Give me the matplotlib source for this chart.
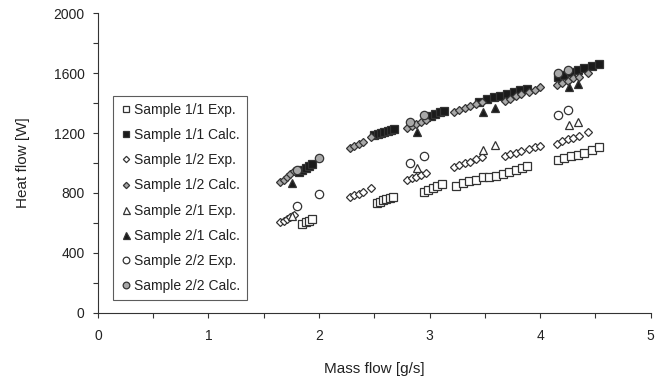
import matplotlib
matplotlib.use("Agg")
import matplotlib.pyplot as plt
from matplotlib.ticker import MultipleLocator

plt.rcParams['font.family'] = ['Liberation Sans', 'DejaVu Sans']

# Sample 1/1 (squares)
s11_x = [1.85, 1.88, 1.91, 1.94,
         2.52, 2.55, 2.58, 2.61, 2.64, 2.67,
         2.95, 2.99, 3.03, 3.07, 3.11,
         3.24, 3.30, 3.36, 3.42, 3.48, 3.54, 3.60, 3.66, 3.72, 3.78, 3.84, 3.88,
         4.16, 4.22, 4.28, 4.34, 4.40, 4.47, 4.53]
s11_exp = [595, 605, 615, 625,
           735, 742, 750, 758, 765, 772,
           805, 820, 830, 845, 860,
           850, 865, 880, 890, 905, 910, 915, 930, 940, 955, 970, 980,
           1020, 1035, 1045, 1055, 1070, 1085, 1105]
s11c_x = [1.82, 1.85, 1.88, 1.91, 1.94,
          2.50, 2.53, 2.56, 2.59, 2.62, 2.65, 2.68,
          2.97, 3.01, 3.05, 3.09, 3.13,
          3.45, 3.52, 3.58, 3.64, 3.70, 3.76, 3.82, 3.88,
          4.16, 4.22, 4.28, 4.34, 4.40, 4.47, 4.53]
s11_calc = [940, 955, 968, 980, 995,
            1185, 1192, 1200, 1208, 1215, 1222, 1230,
            1305, 1315, 1325, 1338, 1350,
            1410, 1425, 1440, 1450, 1462, 1475, 1485, 1495,
            1575, 1590, 1605, 1620, 1635, 1650, 1662]

# Sample 1/2 (diamonds)
s12_x = [1.65, 1.68, 1.71, 1.74, 1.77,
         2.28, 2.32, 2.36, 2.40, 2.47,
         2.80, 2.84, 2.88, 2.92, 2.97,
         3.22, 3.27, 3.32, 3.37, 3.42, 3.47,
         3.68, 3.73, 3.78, 3.83, 3.90, 3.95, 4.00,
         4.15, 4.20, 4.25, 4.30, 4.35, 4.43]
s12_exp = [605, 615, 628, 640, 650,
           775, 785, 795, 805, 835,
           890, 900, 910, 920, 935,
           975, 990, 1000, 1010, 1025, 1040,
           1045, 1060, 1070, 1080, 1095, 1105, 1115,
           1130, 1145, 1160, 1170, 1180, 1205]
s12_calc = [875, 890, 905, 925, 945,
            1100, 1112, 1125, 1140, 1172,
            1235, 1250, 1262, 1275, 1290,
            1340, 1355, 1365, 1378, 1392, 1405,
            1415, 1430, 1445, 1458, 1475, 1490, 1505,
            1520, 1535, 1550, 1565, 1575, 1600]

# Sample 2/1 (triangles)
s21_x = [1.76, 2.89, 3.48, 3.59, 4.26, 4.34]
s21_exp = [645, 967, 1090, 1120, 1253, 1273]
s21_calc = [865, 1207, 1340, 1370, 1505, 1530]

# Sample 2/2 (circles)
s22_x = [1.80, 2.00, 2.82, 2.95, 4.16, 4.25]
s22_exp = [712, 795, 1000, 1045, 1320, 1353]
s22_calc = [955, 1035, 1273, 1320, 1598, 1620]

labels = ["Sample 1/1 Exp.", "Sample 1/1 Calc.", "Sample 1/2 Exp.", "Sample 1/2 Calc.",
          "Sample 2/1 Exp.", "Sample 2/1 Calc.", "Sample 2/2 Exp.", "Sample 2/2 Calc."]

fig = plt.figure(figsize=(6.66, 3.84), dpi=100)
ax = fig.add_axes([0.147, 0.185, 0.83, 0.781])

edge = '#333333'
grey = '#a8a8a8'
black = '#1a1a1a'
kw = dict(linestyle='none', markeredgecolor=edge, markeredgewidth=0.9)

ax.plot(s11_x, s11_exp, marker='s', ms=5.8, mfc='white', label=labels[0], **kw)
ax.plot(s11c_x, s11_calc, marker='s', ms=5.8, mfc=black, label=labels[1], **kw)
ax.plot(s12_x, s12_exp, marker='D', ms=4.0, mfc='white', label=labels[2], **kw)
ax.plot(s12_x, s12_calc, marker='D', ms=4.0, mfc=grey, label=labels[3], **kw)
ax.plot(s21_x, s21_exp, marker='^', ms=6.3, mfc='white', label=labels[4], **kw)
ax.plot(s21_x, s21_calc, marker='^', ms=6.3, mfc=black, label=labels[5], **kw)
ax.plot(s22_x, s22_exp, marker='o', ms=6, mfc='white', label=labels[6], **kw)
ax.plot(s22_x, s22_calc, marker='o', ms=6, mfc=grey, label=labels[7], **kw)

ax.set_xlim(0, 5)
ax.set_ylim(0, 2000)
ax.xaxis.set_major_locator(MultipleLocator(1))
ax.xaxis.set_minor_locator(MultipleLocator(0.5))
ax.yaxis.set_major_locator(MultipleLocator(400))
ax.yaxis.set_minor_locator(MultipleLocator(200))
ax.tick_params(axis='both', which='both', direction='out', length=3.5, width=0.8,
               color=edge, labelsize=10, labelcolor='#222222')
ax.tick_params(axis='x', which='both', pad=8)
ax.tick_params(axis='y', which='both', pad=6)
for s in ['top', 'right']:
    ax.spines[s].set_visible(False)
for s in ['left', 'bottom']:
    ax.spines[s].set_color(edge)
    ax.spines[s].set_linewidth(0.8)

ax.set_xlabel("Mass flow [g/s]", fontsize=11, color='#222222', labelpad=14)
ax.set_ylabel("Heat flow [W]", fontsize=11, color='#222222', labelpad=17)

leg = ax.legend(loc='upper left', bbox_to_anchor=(0.027, 0.723), fontsize=10,
                frameon=True, fancybox=False, edgecolor=edge, handletextpad=0.15,
                handlelength=0.9, labelspacing=0.8, borderpad=0.5, borderaxespad=0,
                markerscale=0.8)
leg.get_frame().set_linewidth(0.8)
for t in leg.get_texts():
    t.set_color('#222222')

fig.savefig("out.png", dpi=100)
